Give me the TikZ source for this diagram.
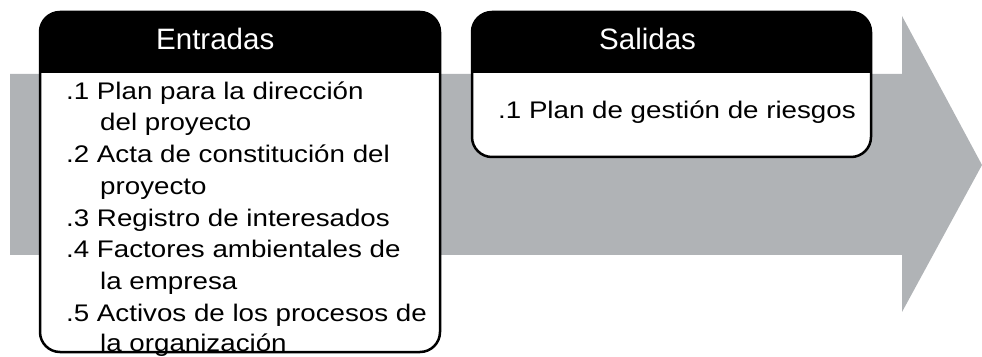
\documentclass[tikz,border=0pt]{standalone}
\usepackage{fontspec}
\setmainfont{Liberation Sans}
\definecolor{arrowgray}{HTML}{B0B3B6}
\begin{document}
\begin{tikzpicture}[x=1pt,y=1pt,
  boxline/.style={draw=black,line width=2.5pt,rounded corners=20pt},
  headtext/.style={anchor=base west,inner sep=0pt,text=white,font=\fontsize{29.5}{34}\selectfont},
  bodytext/.style={anchor=base west,inner sep=0pt,font=\fontsize{24}{28}\selectfont}]
\newcommand{\bt}[1]{\scalebox{1.155}[1]{#1}}
\useasboundingbox (0,0) rectangle (982,356);
% big arrow
\fill[arrowgray] (10,101) -- (10,282) -- (902,282) -- (902,340) -- (982,191) -- (902,44) -- (902,101) -- cycle;
% Entradas box
\fill[white,rounded corners=20pt] (40,4) rectangle (440,344);
\fill[black] (40,283) -- (40,324) arc[start angle=180,end angle=90,radius=20] -- (420,344) arc[start angle=90,end angle=0,radius=20] -- (440,283) -- cycle;
\draw[boxline] (40,4) rectangle (440,344);
% Salidas box
\fill[white,rounded corners=20pt] (472,199) rectangle (871,344);
\fill[black] (472,283) -- (472,324) arc[start angle=180,end angle=90,radius=20] -- (851,344) arc[start angle=90,end angle=0,radius=20] -- (871,283) -- cycle;
\draw[boxline] (472,199) rectangle (871,344);
% headers
\node[headtext] (hin) at (156,306.7) {Entradas};
\node[headtext] (hout) at (599,306.7) {Salidas};
% inputs
\node[bodytext] (e1a) at (66,256.7) {\bt{.1 Plan para la dirección}};
\node[bodytext] (e1b) at (100,225.0) {\bt{del proyecto}};
\node[bodytext] (e2a) at (66,193.3) {\bt{.2 Acta de constitución del}};
\node[bodytext] (e2b) at (100,161.6) {\bt{proyecto}};
\node[bodytext] (e3a) at (66,129.9) {\bt{.3 Registro de interesados}};
\node[bodytext] (e4a) at (66,98.2) {\bt{.4 Factores ambientales de}};
\node[bodytext] (e4b) at (100,66.5) {\bt{la empresa}};
\node[bodytext] (e5a) at (66,34.8) {\bt{.5 Activos de los procesos de}};
\node[bodytext] (e5b) at (100,5.0) {\bt{la organización}};
% outputs
\node[bodytext] (s1) at (498,237.7) {\bt{.1 Plan de gestión de riesgos}};
\end{tikzpicture}
\end{document}
